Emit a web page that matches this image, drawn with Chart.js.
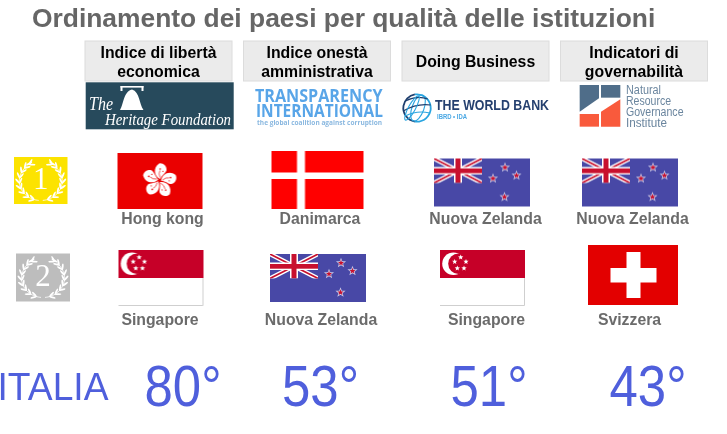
<!DOCTYPE html>
<html><head><meta charset="utf-8">
<style>html,body{margin:0;padding:0;background:#fff}canvas{display:block}</style>
<script src="https://cdn.jsdelivr.net/npm/chart.js@4"></script>
</head><body><canvas id="c" width="727" height="434" style="width:727px;height:434px"></canvas>
<script>
const titleText = "Ordinamento dei paesi per qualità delle istituzioni";
const indexNames = ["Indice di libertà economica","Indice onestà amministrativa","Doing Business","Indicatori di governabilità"];
const headerLines = [["Indice di libertà","economica"],["Indice onestà","amministrativa"],["Doing Business"],["Indicatori di","governabilità"]];
const rows = ["1","2","ITALIA"];
const firstPlace = ["Hong kong","Danimarca","Nuova Zelanda","Nuova Zelanda"];
const secondPlace = ["Singapore","Nuova Zelanda","Singapore","Svizzera"];
const italyRank = [80,53,51,43];

/* ---- layout only ---- */
const SANS = '"Liberation Sans", Arial, sans-serif', SERIF = '"Liberation Serif", serif';
const flagSize = {"Hong kong":[85,56],"Danimarca":[92,58],"Nuova Zelanda":[96,48],"Singapore":[85,56],"Svizzera":[90,60]};
const flagNudge = [[[1.5,0],[0.5,-1],[6.5,1.5],[-4,1.5]],[[2.5,1],[1,1],[7,1],[-1,-2]]];
const nameNudge = [[4,3,10,-1.5],[1.5,4,11,-4.5]];
const rowNameDy = [38,43];
const italyNudgeX = [24.5,3.5,13.5,14];

function sprite(w,h,dx,dy,draw){
  const c=document.createElement('canvas');
  c.width=2*(Math.abs(dx)+w/2)+2; c.height=2*(Math.abs(dy)+h/2)+2;
  const g=c.getContext('2d');
  g.translate(c.width/2+dx-w/2,c.height/2+dy-h/2);
  draw(g,w,h);
  return c;
}
function star(g,x,y,r,fill,stroke,lw){
  g.beginPath();
  for(let i=0;i<10;i++){const a=-Math.PI/2+i*Math.PI/5,q=i%2?r*0.42:r;
    g.lineTo(x+q*Math.cos(a),y+q*Math.sin(a));}
  g.closePath();
  if(stroke){g.strokeStyle=stroke;g.lineWidth=lw;g.stroke();}
  g.fillStyle=fill;g.fill();
}
const painters={
  "Hong kong"(g,w,h){
    g.fillStyle='#ea0000';g.fillRect(0,0,w,h);
    const cx=w/2-.5,cy=h/2-.5;
    for(let i=0;i<5;i++){
      g.save();g.translate(cx,cy);g.rotate(i*2*Math.PI/5+0.1);
      g.fillStyle='#fff';g.beginPath();g.moveTo(.5,-1.5);
      g.bezierCurveTo(-6,-4,-8,-12,-2,-17);
      g.bezierCurveTo(2,-18,6,-15,6,-11);
      g.bezierCurveTo(5.5,-8,2,-6,.5,-1.5);g.fill();
      g.fillStyle='#ea0000';
      g.beginPath();g.arc(-.5,-11.5,.8,0,7);g.fill();
      g.beginPath();g.arc(2.5,-9.5,.6,0,7);g.fill();
      g.strokeStyle='#ea0000';g.lineWidth=.6;g.beginPath();g.moveTo(.3,-3);g.quadraticCurveTo(-2,-7,-.5,-10);g.stroke();
      g.restore();
    }
  },
  "Danimarca"(g,w,h){
    g.fillStyle='#ff0000';g.fillRect(0,0,w,h);
    g.fillStyle='#fff';g.fillRect(25.5,0,8,h);g.fillRect(0,21.5,w,6.5);
  },
  "Nuova Zelanda"(g,w,h){
    g.fillStyle='#4848a6';g.fillRect(0,0,w,h);
    const cw=48,ch=24.5;
    g.save();g.beginPath();g.rect(0,0,cw,ch);g.clip();
    g.lineCap='butt';
    g.strokeStyle='#fff';g.lineWidth=4.5;
    g.beginPath();g.moveTo(0,0);g.lineTo(cw,ch);g.moveTo(cw,0);g.lineTo(0,ch);g.stroke();
    g.strokeStyle='#c8102e';g.lineWidth=1.6;
    g.beginPath();g.moveTo(0,0);g.lineTo(cw,ch);g.moveTo(cw,0);g.lineTo(0,ch);g.stroke();
    g.fillStyle='#fff';g.fillRect(20,0,8,ch);g.fillRect(0,8.5,cw,7.5);
    g.fillStyle='#c8102e';g.fillRect(21.5,0,5,ch);g.fillRect(0,10,cw,4.7);
    g.restore();
    [[71,9],[82.5,17],[59,20],[70.5,38.5]].forEach(p=>star(g,p[0],p[1],3.2,'#c8102e','#c9c9e8',1.5));
  },
  "Singapore"(g,w,h){
    g.fillStyle='#fff';g.fillRect(0,0,w,h);
    g.fillStyle='#c60028';g.fillRect(0,0,w,h/2);
    g.strokeStyle='#cfcfcf';g.lineWidth=1;g.beginPath();g.moveTo(w-.5,h/2);g.lineTo(w-.5,h-.5);g.lineTo(0,h-.5);g.stroke();
    g.fillStyle='#fff';g.beginPath();g.arc(13.5,13.8,11.3,0,7);g.fill();
    g.fillStyle='#c60028';g.beginPath();g.arc(18.5,13.8,10.3,0,7);g.fill();
    [[20.7,7.3],[26,11.7],[24,18.3],[17.3,18.3],[14.7,11.7]].forEach(p=>star(g,p[0],p[1],2.8,'#fff'));
  },
  "Svizzera"(g,w,h){
    g.fillStyle='#e30000';g.fillRect(0,0,w,h);
    g.fillStyle='#fff';g.fillRect(38.5,7,14,46);g.fillRect(22.5,23,46,14.5);
  }
};
function flag(name,r,c){
  const [w,h]=flagSize[name],[dx,dy]=flagNudge[r][c];
  return sprite(w,h,dx,dy,painters[name]);
}

function medal(g,x,y,w,h,col,num){
  g.fillStyle=col;g.fillRect(x,y,w,h);
  const cx=x+w/2,cy=y+h/2,Rx=21.5,Ry=19.5,c0=cy+.5;
  g.fillStyle='#fff';g.strokeStyle='#fff';
  for(const s of [-1,1]){
    const at=t=>[cx+s*Rx*Math.sin(t),c0+Ry*Math.cos(t)];
    g.lineWidth=.8;g.beginPath();
    for(let t=0.03;t<=0.78;t+=.02){const p=at(t*Math.PI);g.lineTo(p[0],p[1]);}
    g.stroke();
    for(let i=0;i<9;i++){
      const t=(0.1+0.09*i)*Math.PI,p=at(t);
      const th=Math.atan2(-Ry*Math.sin(t),s*Rx*Math.cos(t));
      for(const k of [-1,1]){
        const d=th+k*.55;
        g.beginPath();g.ellipse(p[0]+2.9*Math.cos(d),p[1]+2.9*Math.sin(d),3.3,.95,d,0,7);g.fill();
      }
    }
    const e=at(0.82*Math.PI);
    g.beginPath();g.ellipse(e[0],e[1]-1,3.4,1,Math.atan2(-Ry*Math.sin(.82*Math.PI),s*Rx*Math.cos(.82*Math.PI)),0,7);g.fill();
  }
  g.font='31px '+SERIF;g.textAlign='center';g.textBaseline='alphabetic';g.fillStyle='#fff';
  g.fillText(num,cx,cy+8.5);
}

const logos=[
  function(g){ /* Heritage */
    g.fillStyle='#274a5c';g.fillRect(85.7,82.3,148,47);
    g.fillStyle='#fff';
    g.fillRect(120.5,86,23,1.6);g.fillRect(120.5,86,2,5);g.fillRect(141.5,86,2,5);
    g.beginPath();g.moveTo(120,110);g.bezierCurveTo(124,104,123,92,132,89.5);
    g.bezierCurveTo(140,92,139,104,143.5,110);g.closePath();g.fill();
    g.font='italic 18px '+SERIF;g.textAlign='left';
    g.fillText('The',89,110,24);
    g.font='italic 17.5px '+SERIF;
    g.fillText('Heritage Foundation',105,125,126);
  },
  function(g){ /* Transparency */
    g.fillStyle='#58a5e8';g.textAlign='left';
    g.font='bold 17px "Open Sans",'+SANS;
    g.fillText('TRANSPARENCY',255,101.5,127.5);
    g.fillText('INTERNATIONAL',256,116.5,127);
    g.font='bold 7.5px "Open Sans",'+SANS;g.fillStyle='#8ab8e0';
    g.fillText('the global coalition against corruption',257,124.5,125);
  },
  function(g){ /* World Bank */
    const x=417,y=108,r=13.7;
    g.lineWidth=1.8;g.strokeStyle='#1f3f6e';
    g.beginPath();g.arc(x,y,r,Math.PI*0.55,Math.PI*1.45);g.stroke();
    g.strokeStyle='#2aa5e0';g.beginPath();g.arc(x,y,r,Math.PI*1.45,Math.PI*2.55);g.stroke();
    g.lineWidth=1.1;
    g.beginPath();g.ellipse(x+1,y,6,r,.35,0,7);g.stroke();
    g.strokeStyle='#1f3f6e';g.beginPath();g.moveTo(x-r,y+3);g.quadraticCurveTo(x,y-5,x+r,y-3);g.stroke();
    g.beginPath();g.moveTo(x-r+2,y-7);g.quadraticCurveTo(x,y-13,x+r-3,y-9);g.stroke();
    g.strokeStyle='#2aa5e0';g.beginPath();g.moveTo(x-r+2,y+8);g.quadraticCurveTo(x,y+2,x+r-1,y+5);g.stroke();
    g.beginPath();g.ellipse(x-5,y,3.5,r,.5,0,7);g.stroke();
    g.fillStyle='#25406f';g.textAlign='left';
    g.font='bold 14px '+SANS;g.fillText('THE WORLD BANK',435,109.5,114);
    g.font='bold 7px '+SANS;g.fillStyle='#4aa8e4';g.fillText('IBRD • IDA',437,118.5,30);
  },
  function(g){ /* NRGI */
    const X=v=>390+v/3,Y=v=>30+v/3;
    const poly=(pts,col)=>{g.fillStyle=col;g.beginPath();pts.forEach(p=>g.lineTo(X(p[0]),Y(p[1])));g.closePath();g.fill();};
    poly([[569,165],[627,165],[627,205],[569,245]],'#4f6d89');
    poly([[633,165],[691,165],[691,203],[633,203]],'#4f6d89');
    poly([[569,252],[627,252],[627,290],[569,290]],'#f95a3c');
    poly([[633,290],[633,245],[691,208],[691,290]],'#f95a3c');
    g.fillStyle='#6a859e';g.textAlign='left';g.font='12px '+SANS;
    [['Natural',93.5,35],['Resource',105,45],['Governance',116,57.5],['Institute',127,41]].forEach(t=>g.fillText(t[0],626,t[1],t[2]));
  }
];

const board={
  id:'board',
  afterDatasetsDraw(ch){
    const g=ch.ctx,x=ch.scales.x,y=ch.scales.y;
    g.save();g.textBaseline='alphabetic';
    indexNames.forEach((n,i)=>{
      const cx=x.getPixelForValue(n);
      g.fillStyle='#ebebeb';g.strokeStyle='#dcdcdc';g.lineWidth=1;
      g.fillRect(cx-73.5,41,147,40);g.strokeRect(cx-73.5,41,147,40);
      g.fillStyle='#000';g.font='bold 15.8px '+SANS;g.textAlign='center';
      const L=headerLines[i];
      if(L.length===1) g.fillText(L[0],cx,66.5);
      else {g.fillText(L[0],cx,58);g.fillText(L[1],cx,76.5);}
    });
    logos.forEach(f=>{g.textBaseline='alphabetic';f(g);});
    [firstPlace,secondPlace].forEach((names,r)=>{
      const py=y.getPixelForValue(rows[r]);
      g.fillStyle='#6b6b6b';g.font='bold 15.8px '+SANS;g.textAlign='center';
      names.forEach((n,c)=>{
        g.fillText(n,x.getPixelForValue(indexNames[c])+nameNudge[r][c],py+rowNameDy[r]+5);
      });
    });
    medal(g,14,157,53.5,47,'#fce300','1');
    medal(g,16,253.5,54,48,'#bdbdbd','2');
    const iy=y.getPixelForValue(rows[2])+13;
    g.fillStyle='#4f5fdc';g.textAlign='left';
    g.font='39px '+SANS;g.fillText(rows[2],-2.5,iy+14,111);
    g.textAlign='center';g.font='58px '+SANS;
    italyRank.forEach((v,c)=>{
      g.fillText(v+'°',x.getPixelForValue(indexNames[c])+italyNudgeX[c],iy+20,77);
    });
    g.restore();
  }
};

function points(names,r){
  return {
    data:names.map((n,c)=>({x:indexNames[c],y:rows[r],country:n})),
    pointStyle:names.map((n,c)=>flag(n,r,c)),
    pointRadius:10,showLine:false,clip:false
  };
}
new Chart(document.getElementById('c'),{
  type:'scatter',
  data:{datasets:[points(firstPlace,0),points(secondPlace,1)]},
  options:{
    responsive:false,devicePixelRatio:1,animation:false,
    layout:{padding:{left:32,right:13.75,top:0,bottom:13}},
    plugins:{
      legend:{display:false},tooltip:{enabled:false},
      title:{display:true,text:titleText,align:'start',color:'#666',
        font:{family:'"Liberation Sans"',size:26.4,weight:'bold',lineHeight:1.2},
        padding:{top:4,bottom:97.3}}
    },
    scales:{
      x:{type:'category',labels:indexNames,offset:true,display:false},
      y:{type:'category',labels:rows,offset:true,display:true,
         grid:{display:false},border:{display:false},ticks:{display:false},
         afterFit(s){s.width=47.25;}}
    }
  },
  plugins:[board]
});
</script></body></html>
